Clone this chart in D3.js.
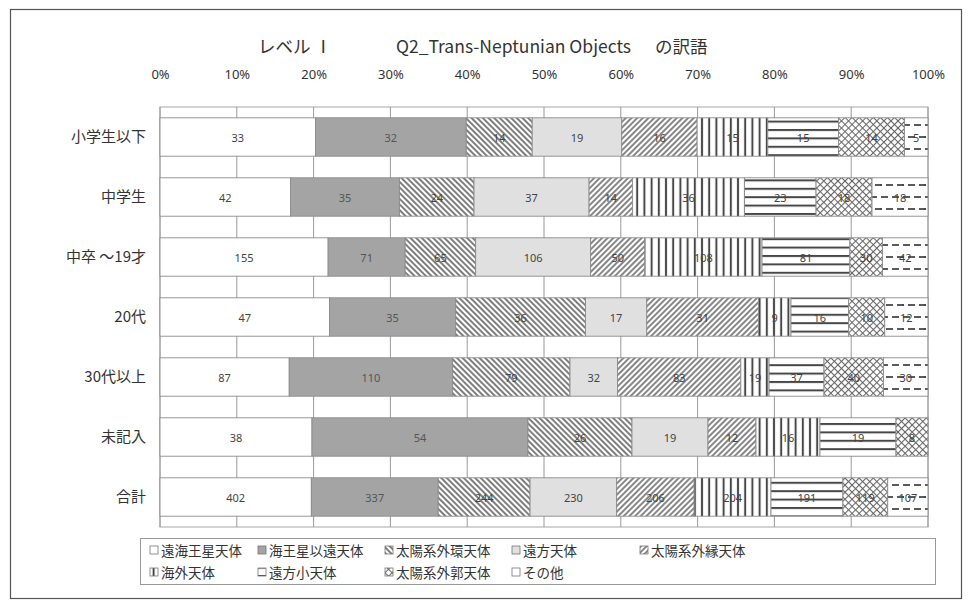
<!DOCTYPE html>
<html>
<head>
<meta charset="utf-8">
<script src="https://cdn.jsdelivr.net/npm/d3@7"></script>
<style>
  html, body { margin: 0; padding: 0; background: #fff; }
  svg { display: block; font-family: "Noto Sans CJK JP", "Noto Sans", sans-serif; }
</style>
</head>
<body>
<svg id="chart" width="972" height="610"></svg>
<script>
// Respondent groups (rows, top to bottom)
const categories = ["小学生以下", "中学生", "中卒 〜19才", "20代", "30代以上", "未記入", "合計"];

// Translation answers (stack order, left to right)
const seriesNames = ["遠海王星天体", "海王星以遠天体", "太陽系外環天体", "遠方天体", "太陽系外縁天体",
                     "海外天体", "遠方小天体", "太陽系外郭天体", "その他"];

// Counts per answer, one value per row
const enkaiousei   = [33, 42, 155, 47, 87, 38, 402];
const kaiouseiien  = [32, 35, 71, 35, 110, 54, 337];
const gaikan       = [14, 24, 65, 36, 79, 26, 244];
const enpou        = [19, 37, 106, 17, 32, 19, 230];
const gaien        = [16, 14, 50, 31, 83, 12, 206];
const kaigai       = [15, 36, 108, 9, 19, 16, 204];
const enpouShou    = [15, 23, 81, 16, 37, 19, 191];
const gaikaku      = [14, 18, 30, 10, 40, 8, 119];
const sonota       = [5, 18, 42, 12, 30, 0, 107];

const tickLabels = ["0%", "10%", "20%", "30%", "40%", "50%", "60%", "70%", "80%", "90%", "100%"];
const titleParts = ["レベル Ⅰ", "Q2_Trans-Neptunian Objects", "の訳語"];

const seriesValues = [enkaiousei, kaiouseiien, gaikan, enpou, gaien, kaigai, enpouShou, gaikaku, sonota];

const svg = d3.select("#chart");
const plot = { left: 160, right: 928, top: 107, bottom: 527 };

// ---------- fill patterns ----------
const defs = svg.append("defs");
const ink = "#474747";

function stripePattern(id, angle, gap, width) {
  const p = defs.append("pattern").attr("id", id)
    .attr("patternUnits", "userSpaceOnUse")
    .attr("width", gap).attr("height", gap)
    .attr("patternTransform", `rotate(${angle})`);
  p.append("rect").attr("width", gap).attr("height", gap).attr("fill", "#fff");
  p.append("line").attr("x1", gap / 2).attr("x2", gap / 2).attr("y1", 0).attr("y2", gap)
    .attr("stroke", ink).attr("stroke-width", width);
}
stripePattern("p-dn", -45, 4, 1.4);   // \\\\
stripePattern("p-up", 45, 4, 1.3);    // ////
stripePattern("p-vert", 0, 7.2, 2.0); // ||||

// horizontal lines
(function () {
  const p = defs.append("pattern").attr("id", "p-horz")
    .attr("patternUnits", "userSpaceOnUse").attr("width", 10).attr("height", 8.4)
    .attr("y", 3);
  p.append("rect").attr("width", 10).attr("height", 8.4).attr("fill", "#fff");
  p.append("line").attr("x1", 0).attr("x2", 10).attr("y1", 1).attr("y2", 1)
    .attr("stroke", ink).attr("stroke-width", 2);
})();

// small diagonal cross-hatch
(function () {
  const s = 5;
  const p = defs.append("pattern").attr("id", "p-cross")
    .attr("patternUnits", "userSpaceOnUse").attr("width", s).attr("height", s)
    .attr("patternTransform", "rotate(45)");
  p.append("rect").attr("width", s).attr("height", s).attr("fill", "#fff");
  p.append("line").attr("x1", 0).attr("x2", s).attr("y1", 0.5).attr("y2", 0.5)
    .attr("stroke", "#666").attr("stroke-width", 1.1);
  p.append("line").attr("x1", 0.5).attr("x2", 0.5).attr("y1", 0).attr("y2", s)
    .attr("stroke", "#666").attr("stroke-width", 1.1);
})();

// dashed horizontal rows
(function () {
  const w = 22, h = 24;
  const p = defs.append("pattern").attr("id", "p-dash")
    .attr("patternUnits", "userSpaceOnUse").attr("width", w).attr("height", h)
    .attr("y", 3);
  p.append("rect").attr("width", w).attr("height", h).attr("fill", "#fff");
  const dash = (x1, yy) => p.append("line").attr("x1", x1).attr("x2", x1 + 7)
    .attr("y1", yy).attr("y2", yy).attr("stroke", ink).attr("stroke-width", 1.8);
  dash(1, 2); dash(12, 2);
  dash(-5, 14); dash(6, 14); dash(17, 14);
})();

const fills = ["#ffffff", "#a4a4a4", "url(#p-dn)", "#e0e0e0", "url(#p-up)",
               "url(#p-vert)", "url(#p-horz)", "url(#p-cross)", "url(#p-dash)"];

// ---------- frame ----------
svg.append("rect").attr("x", 10.5).attr("y", 9.5).attr("width", 951).attr("height", 589)
  .attr("fill", "#fff").attr("stroke", "#555").attr("stroke-width", 1.2);

// ---------- scales ----------
const x = d3.scaleLinear().domain([0, 1]).range([plot.left, plot.right]);
const y = d3.scaleBand().domain(categories).range([plot.top, plot.bottom])
  .paddingInner(0.36).paddingOuter(0.18);

// Row-wise shares built from the series arrays
const rows = categories.map((c, i) => {
  const vals = seriesValues.map(s => s[i]);
  const total = d3.sum(vals);
  let acc = 0;
  return vals.map((v, k) => {
    const seg = { cat: c, k, v, x0: acc / total, x1: (acc + v) / total };
    acc += v;
    return seg;
  });
});

// ---------- grid ----------
const g = svg.append("g");
g.append("rect").attr("x", plot.left).attr("y", plot.top)
  .attr("width", plot.right - plot.left).attr("height", plot.bottom - plot.top)
  .attr("fill", "none").attr("stroke", "#a8a8a8");
g.selectAll("line.grid").data(d3.range(0, 1.0001, 0.1)).join("line")
  .attr("class", "grid")
  .attr("x1", d => x(d)).attr("x2", d => x(d))
  .attr("y1", plot.top).attr("y2", plot.bottom)
  .attr("stroke", "#9a9a9a").attr("stroke-width", 1);

// top percentage axis
const axisTop = d3.axisTop(x).tickValues(d3.range(0, 1.0001, 0.1))
  .tickFormat((d, i) => tickLabels[i]).tickSize(0).tickPadding(0);
svg.append("g").attr("transform", `translate(0, ${plot.top - 28})`).call(axisTop)
  .call(a => a.select(".domain").remove())
  .selectAll("text").attr("font-size", 13).attr("fill", "#333")
  .attr("font-family", "'Noto Sans', 'Noto Sans CJK JP', sans-serif");

// category axis
const axisLeft = d3.axisLeft(y).tickSize(0).tickPadding(14);
svg.append("g").attr("transform", `translate(${plot.left}, 0)`).call(axisLeft)
  .call(a => a.select(".domain").remove())
  .selectAll("text").attr("font-size", 15).attr("fill", "#333")
  .attr("font-family", "'Noto Sans CJK JP', sans-serif");

// ---------- bars ----------
const bars = svg.append("g");
rows.forEach(row => {
  const segs = row.filter(d => d.v > 0);
  bars.selectAll(null).data(segs).join("rect")
    .attr("x", d => x(d.x0)).attr("y", d => y(d.cat))
    .attr("width", d => x(d.x1) - x(d.x0)).attr("height", y.bandwidth())
    .attr("fill", d => fills[d.k])
    .attr("stroke", "#8c8c8c").attr("stroke-width", 0.9);
  bars.selectAll(null).data(segs).join("text")
    .attr("x", d => (x(d.x0) + x(d.x1)) / 2)
    .attr("y", d => y(d.cat) + y.bandwidth() / 2)
    .attr("text-anchor", "middle").attr("dominant-baseline", "central")
    .attr("font-size", 11).attr("fill", d => (d.k === 1 ? "#555" : "#444"))
    .attr("font-family", "'Noto Sans', sans-serif")
    .text(d => d.v);
});

// ---------- title ----------
const title = svg.append("text").attr("y", 53)
  .attr("font-size", 17.5).attr("fill", "#333")
  .attr("font-family", "'Noto Sans CJK JP', sans-serif");
const titleX = [258, 396, 655];
title.selectAll("tspan").data(titleParts).join("tspan")
  .attr("x", (d, i) => titleX[i]).text(d => d);

// ---------- legend ----------
const lg = svg.append("g");
lg.append("rect").attr("x", 140.5).attr("y", 538.5).attr("width", 795).attr("height", 46)
  .attr("fill", "#fff").attr("stroke", "#999");
const colX = [150, 258, 385, 512, 640];
const legendItems = seriesNames.map((n, k) => ({
  n, k, x: colX[k % 5], y: k < 5 ? 550 : 572
}));
const li = lg.selectAll("g.item").data(legendItems).join("g").attr("class", "item")
  .attr("transform", d => `translate(${d.x}, ${d.y})`);
li.append("rect").attr("x", 0).attr("y", -4).attr("width", 8).attr("height", 8)
  .attr("fill", d => fills[d.k]).attr("stroke", "#777").attr("stroke-width", 0.8);
li.append("text").attr("x", 11).attr("y", 0).attr("dominant-baseline", "central")
  .attr("font-size", 13.5).attr("fill", "#333")
  .attr("font-family", "'Noto Sans CJK JP', sans-serif")
  .text(d => d.n);
</script>
</body>
</html>
